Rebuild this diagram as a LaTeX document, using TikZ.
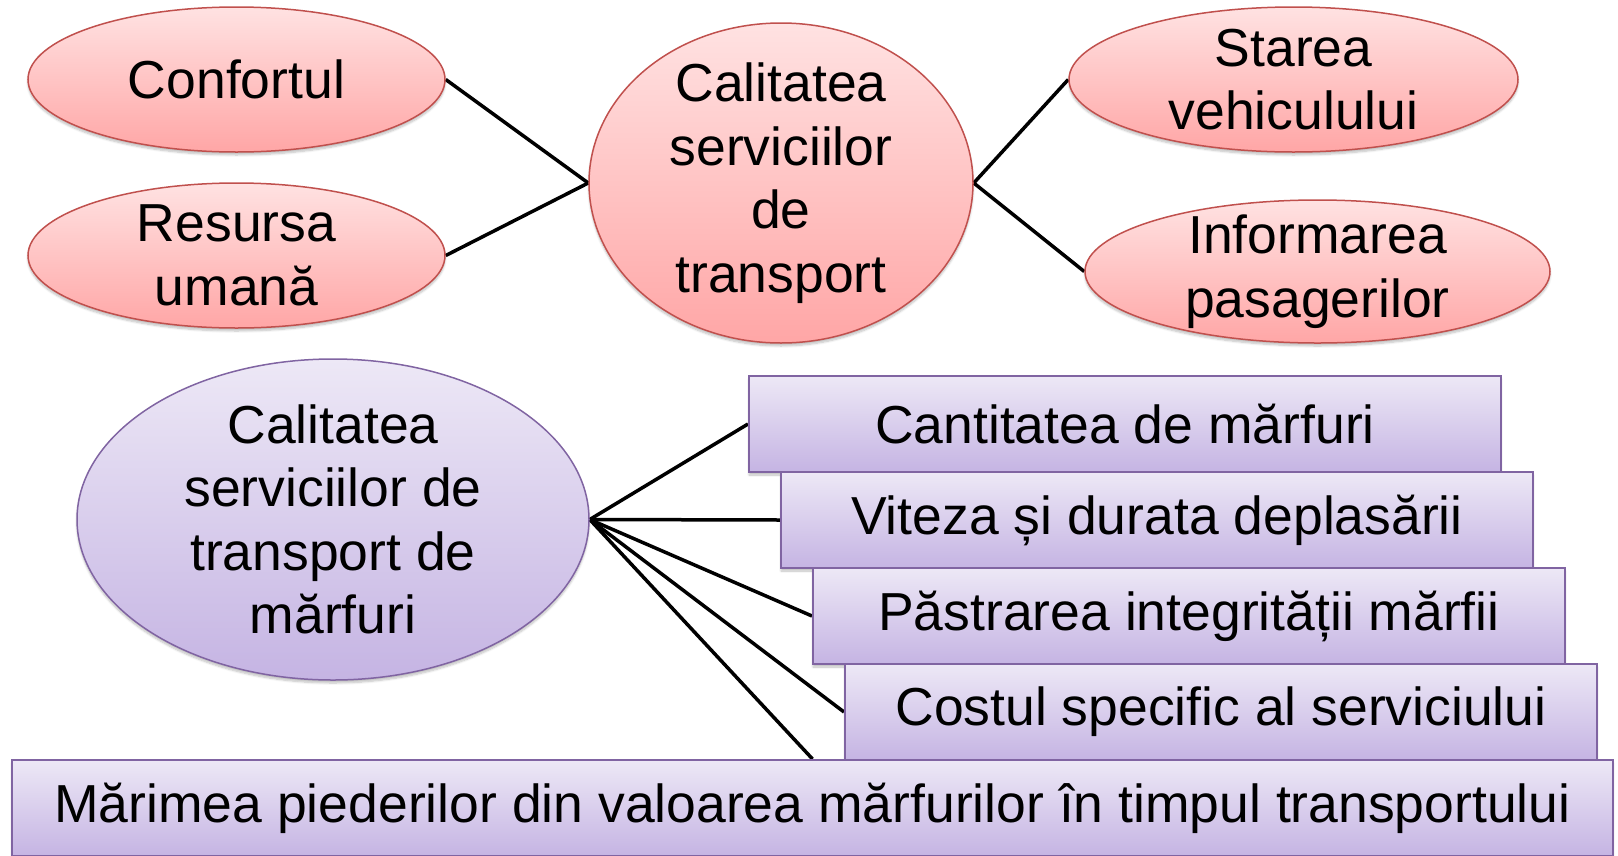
\documentclass[tikz,border=0pt]{standalone}
\usepackage{fontspec}
\setmainfont{Liberation Sans}
\usetikzlibrary{shapes.geometric, backgrounds, shadows.blur}
\definecolor{pinktop}{RGB}{255, 226, 226}
\definecolor{pinkbot}{RGB}{255, 166, 166}
\definecolor{pinkline}{RGB}{192, 80, 77}
\definecolor{lilactop}{RGB}{237, 232, 246}
\definecolor{lilacbot}{RGB}{197, 180, 227}
\definecolor{lilacline}{RGB}{128, 100, 162}

\tikzset{
  bigfont/.style={font=\fontsize{53.5}{63.5}\selectfont},
  softshadow/.style={blur shadow={shadow xshift=0pt, shadow yshift=-3pt, shadow opacity=25, shadow blur steps=6}},
  pinkoval/.style={ellipse, draw=pinkline, line width=1.5, top color=pinktop, bottom color=pinkbot,
    align=center, inner sep=-30pt, bigfont, softshadow},
  lilacoval/.style={ellipse, draw=lilacline, line width=1.5, top color=lilactop, bottom color=lilacbot,
    align=center, inner sep=-30pt, bigfont, softshadow},
  lilacbox/.style={rectangle, draw=lilacline, line width=2, top color=lilactop, bottom color=lilacbot,
    minimum width=752, minimum height=96, inner sep=0pt, bigfont, softshadow},
  link/.style={black, line width=3.5}
}

\begin{document}
\begin{tikzpicture}[x=1pt, y=1pt]
  \useasboundingbox (0, 0) rectangle (1618, -855);

  % passenger transport
  \node[pinkoval, minimum width=417, minimum height=145] (conf) at (236.5, -79.5) {Confortul};
  \node[pinkoval, minimum width=417, minimum height=145] (resursa) at (236.5, -255.5) {Resursa\\umană};
  \node[pinkoval, minimum width=384, minimum height=320] (calit) at (781, -183) {Calitatea\\serviciilor\\de\\transport};
  \node[pinkoval, minimum width=449, minimum height=145] (stare) at (1293.5, -79.5) {Starea\\vehiculului};
  \node[pinkoval, minimum width=465, minimum height=143] (info) at (1317.5, -271.5) {Informarea\\pasagerilor};

  % freight transport
  \node[lilacoval, minimum width=512, minimum height=321] (marfa) at (333, -519.5) {Calitatea\\serviciilor de\\transport de\\mărfuri};
  \node[lilacbox] (m1) at (1125, -424) {Cantitatea de mărfuri};
  \node[lilacbox] (m2) at (1157, -520) {Viteza și durata deplasării};
  \node[lilacbox] (m3) at (1189, -616) {Păstrarea integrității mărfii};
  \node[lilacbox] (m4) at (1221, -712) {Costul specific al serviciului};
  \node[lilacbox, minimum width=1601] (m5) at (812.5, -808) {Mărimea piederilor din valoarea mărfurilor în timpul transportului};

  \begin{scope}[on background layer]
    \draw[link] (conf.east) -- (calit.west);
    \draw[link] (resursa.east) -- (calit.west);
    \draw[link] (calit.east) -- (stare.west);
    \draw[link] (calit.east) -- (info.west);

    \foreach \m in {m1, m2, m3, m4} {
      \draw[link] (marfa.east) -- (\m.west);
    }
    \draw[link] (marfa.east) -- (m5.north);
  \end{scope}
\end{tikzpicture}
\end{document}
